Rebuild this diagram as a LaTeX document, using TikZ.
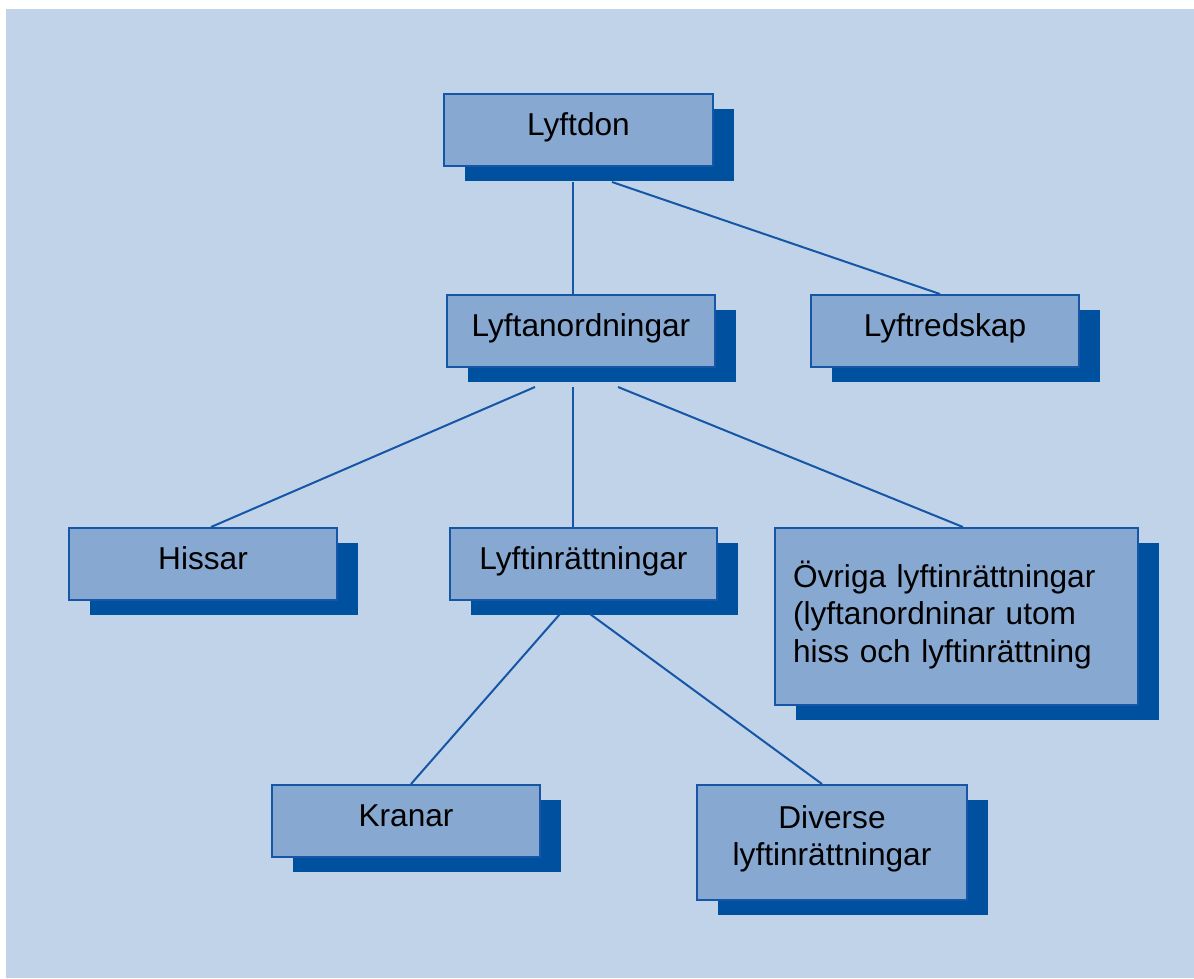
\documentclass[tikz,border=0pt]{standalone}
\usepackage{fontspec}
\setmainfont{Liberation Sans}
\usetikzlibrary{shadows}

\definecolor{bgblue}{RGB}{193,211,233}
\definecolor{boxblue}{RGB}{135,168,209}
\definecolor{lineblue}{RGB}{22,86,166}
\definecolor{shadowblue}{RGB}{0,80,160}

\tikzset{
	liftbox/.style={draw=lineblue, line width=0.04cm, fill=boxblue,
		drop shadow={shadow xshift=0.42cm, shadow yshift=-0.3cm, fill=shadowblue, opacity=1},
		minimum width=5.36cm, minimum height=1.44cm, inner sep=0pt,
		text height=0.45cm, text depth=0.25cm,
		font=\fontsize{18}{21.5}\selectfont},
	link/.style={draw=lineblue, line width=0.04cm}
}

\begin{document}
\begin{tikzpicture}[x=0.02cm, y=-0.02cm]
			\useasboundingbox (0,0) rectangle (1194,978);
			\fill[bgblue] (6,9) rectangle (1194,978);
			% top level
			\node[liftbox, minimum width=5.38cm] (don) at (578.5,130) {Lyftdon};
			% second level
			\node[liftbox] (anord) at (581,331) {Lyftanordningar};
			\node[liftbox] (redskap) at (945,331) {Lyftredskap};
			% third level
			\node[liftbox] (hissar) at (203,564) {Hissar};
			\node[liftbox, minimum width=5.34cm] (inratt) at (583.5,564) {Lyftinrättningar};
			\node[liftbox, minimum width=7.26cm, minimum height=3.54cm,
				text width=6.54cm, align=left, text height=0.5cm, text depth=1.68cm]
				(ovriga) at (956.5,616.5) {Övriga lyftinrättningar\\(lyftanordninar utom\\hiss och lyftinrättning};
			% fourth level
			\node[liftbox] (kranar) at (406,821) {Kranar};
			\node[liftbox, minimum width=5.4cm, minimum height=2.3cm,
				text width=5cm, align=center, text height=0.5cm, text depth=1.08cm]
				(diverse) at (832,842.5) {Diverse\\lyftinrättningar};
			
			% connectors
			\draw[link] ([shift={(-5.5,15)}]don.south) -- ([shift={(-8,0)}]anord.north);
			\draw[link] ([shift={(33.5,15)}]don.south) -- ([shift={(-5,0)}]redskap.north);
			\draw[link] ([shift={(-46,19)}]anord.south) -- ([shift={(8,0)}]hissar.north);
			\draw[link] ([shift={(-8,19)}]anord.south) -- ([shift={(-10.5,0)}]inratt.north);
			\draw[link] ([shift={(37,19)}]anord.south) -- ([shift={(6.5,0)}]ovriga.north);
			\draw[link] ([shift={(-23.5,13)}]inratt.south) -- ([shift={(5,0)}]kranar.north);
			\draw[link] ([shift={(6.5,13)}]inratt.south) -- ([shift={(-10,0)}]diverse.north);
			
		\end{tikzpicture}
\end{document}
